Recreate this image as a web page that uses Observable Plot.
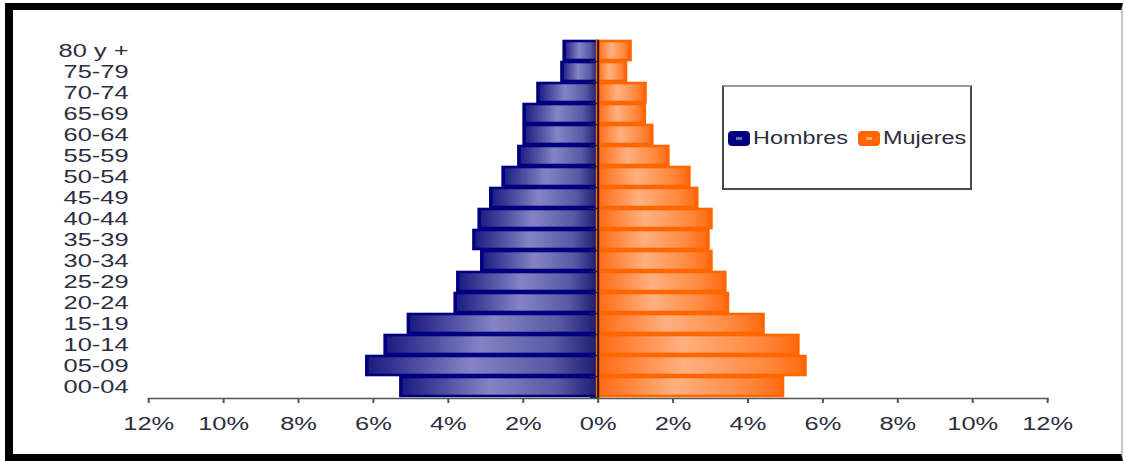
<!DOCTYPE html>
<html>
<head>
<meta charset="utf-8">
<script src="https://cdn.jsdelivr.net/npm/d3@7"></script>
<script src="https://cdn.jsdelivr.net/npm/@observablehq/plot@0.6"></script>
<style>
html, body { margin: 0; padding: 0; background: #fff; }
#wrap { position: relative; width: 1124px; height: 461px; overflow: hidden; font-family: "Liberation Sans", Arial, sans-serif; }
#chart { position: absolute; left: 0; top: 0; }
#frame { position: absolute; left: 5px; top: 3px; width: 1118px; height: 458px; box-sizing: border-box;
  border-left: 8px solid #000; border-top: 7px solid #000; border-bottom: 7px solid #000; border-right: 2px solid #c8c8c8; pointer-events: none; }
#legend { position: absolute; left: 722px; top: 85px; width: 250px; height: 105px; box-sizing: border-box;
  border: 2px solid #4a4a4a; border-top-color: #9a9a9a; background: #fff; }
.sw { position: absolute; top: 44px; width: 22px; height: 15px; border-radius: 4px; }
.sw i { position: absolute; left: 8px; top: 6px; width: 6px; height: 3px; }
.lt { position: absolute; top: 41px; font-size: 18px; line-height: 20px; color: #2e2e40; transform: scaleX(1.3); transform-origin: left center; white-space: nowrap; }
</style>
</head>
<body>
<div id="wrap">
  <div id="chart"></div>
  <div id="legend">
    <div class="sw" style="left:4px;background:#000080"><i style="background:#6a6ab0"></i></div>
    <div class="lt" style="left:29px">Hombres</div>
    <div class="sw" style="left:134px;background:#ff6600"><i style="background:#ffaa77"></i></div>
    <div class="lt" style="left:159px">Mujeres</div>
  </div>
  <div id="frame"></div>
</div>
<script>
const ages = ["80 y +", "75-79", "70-74", "65-69", "60-64", "55-59", "50-54", "45-49", "40-44", "35-39", "30-34", "25-29", "20-24", "15-19", "10-14", "05-09", "00-04"];
const hombres = [0.89, 0.95, 1.59, 1.96, 1.96, 2.10, 2.52, 2.85, 3.16, 3.30, 3.09, 3.73, 3.80, 5.05, 5.67, 6.16, 5.25];
const mujeres = [0.87, 0.75, 1.27, 1.25, 1.45, 1.88, 2.44, 2.65, 3.03, 2.95, 3.03, 3.40, 3.47, 4.42, 5.35, 5.54, 4.94];
const xTicks = [-12, -10, -8, -6, -4, -2, 0, 2, 4, 6, 8, 10, 12];

const male = ages.map((a, i) => ({age: a, v: -hombres[i]}));
const female = ages.map((a, i) => ({age: a, v: mujeres[i]}));

const W = 839, H = 461, MT = 40, MB = 63;
const step = (H - MT - MB) / ages.length;

function defs() {
  const d = d3.create("svg:defs");
  const gm = d.append("linearGradient").attr("id", "gm").attr("x1", 0).attr("x2", 1).attr("y1", 0).attr("y2", 0);
  [[0, "#1a1a80"], [0.45, "#8484c4"], [0.8, "#5858a4"], [1, "#1c1c70"]].forEach(([o, c]) => gm.append("stop").attr("offset", o).attr("stop-color", c));
  const gf = d.append("linearGradient").attr("id", "gf").attr("x1", 0).attr("x2", 1).attr("y1", 0).attr("y2", 0);
  [[0, "#ff6a12"], [0.42, "#ffb080"], [0.8, "#ff8a40"], [1, "#ff6a10"]].forEach(([o, c]) => gf.append("stop").attr("offset", o).attr("stop-color", c));
  return d.node();
}

const plot = Plot.plot({
  width: W,
  height: H,
  marginLeft: 110.5,
  marginRight: 57.5,
  marginTop: MT,
  marginBottom: MB,
  style: {fontFamily: "'Liberation Sans', Arial, sans-serif", fontSize: "19px", color: "#2e2e40", background: "transparent"},
  x: {domain: [-12, 12]},
  y: {domain: ages, paddingInner: 0.08, paddingOuter: 0.04},
  marks: [
    defs,
    Plot.barX(male, {x1: 0, x2: "v", y: "age", fill: "url(#gm)", stroke: "#000080", strokeWidth: 2.6}),
    Plot.barX(female, {x1: 0, x2: "v", y: "age", fill: "url(#gf)", stroke: "#ff6600", strokeWidth: 2.6}),
    Plot.ruleX([0], {stroke: "#2a1a10", strokeWidth: 1.5}),
    Plot.ruleY(ages, {y: d => d, x1: -0.2, x2: 0, dy: step / 2, stroke: "#222", strokeWidth: 1.3}),
    Plot.frame({anchor: "bottom", stroke: "#555", strokeWidth: 1.5}),
    Plot.axisX(xTicks, {tickSize: 5, tickPadding: 13, tickFormat: d => Math.abs(d) + "%", stroke: "#555", strokeWidth: 1.5, fill: "#2e2e40", label: null}),
    Plot.axisY({tickSize: 0, tickPadding: 15, fill: "#2e2e40", label: null})
  ]
});

plot.setAttribute("preserveAspectRatio", "none");
plot.style.width = "1124px";
plot.style.height = "461px";
plot.style.maxWidth = "none";
document.getElementById("chart").appendChild(plot);
</script>
</body>
</html>
